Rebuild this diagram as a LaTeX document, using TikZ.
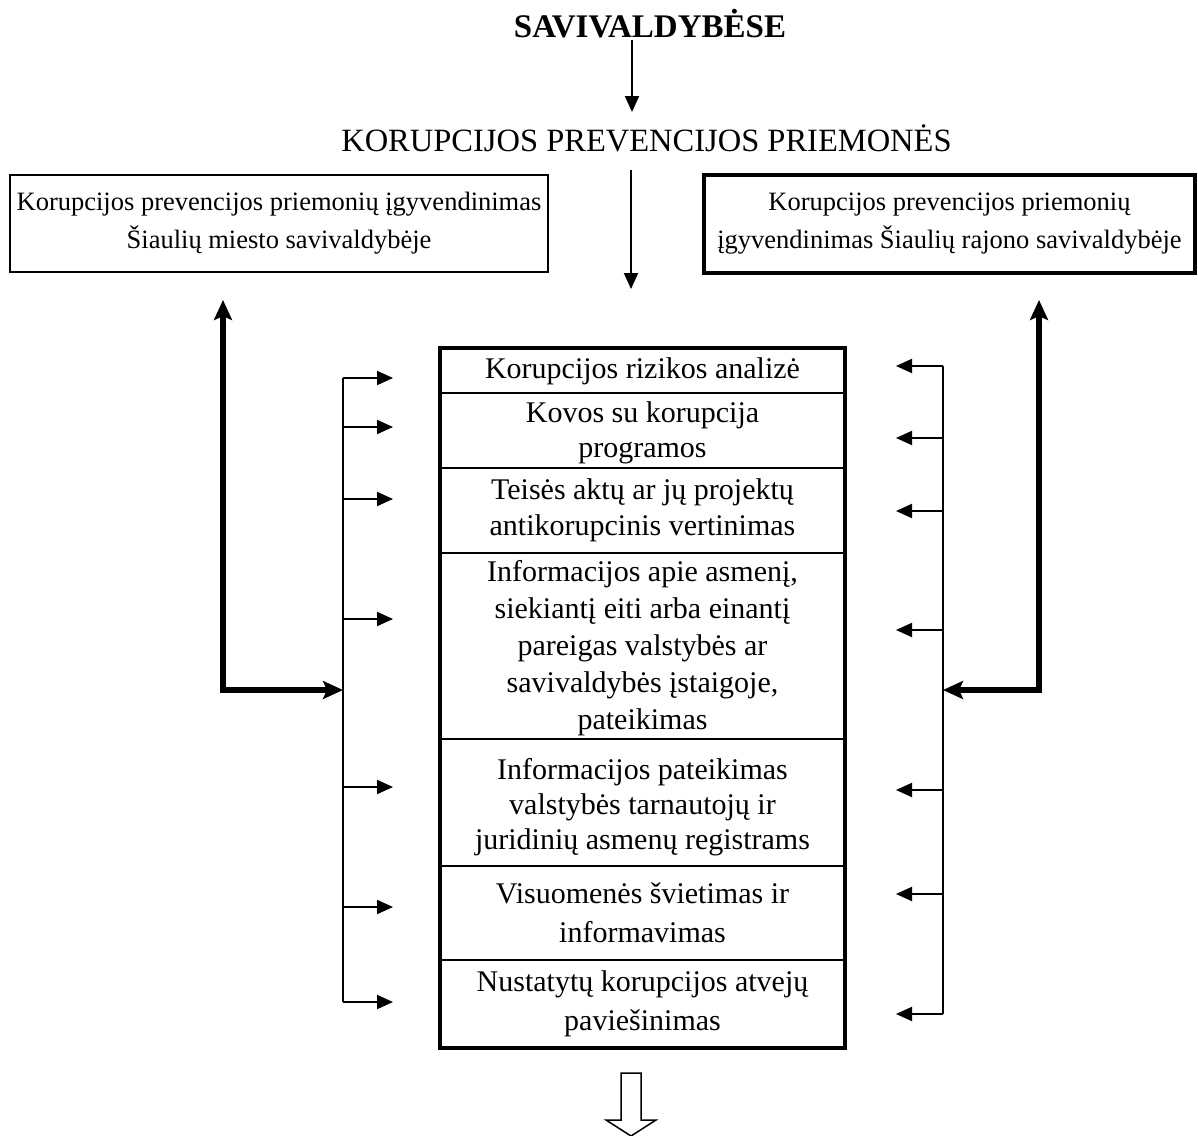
\documentclass[tikz,border=0pt]{standalone}
\usepackage{fontspec}
\setmainfont{Liberation Serif}
\usetikzlibrary{arrows.meta}
\begin{document}
\begin{tikzpicture}[x=1pt,y=-1pt,
  rowbox/.style={draw, line width=2pt, minimum width=403pt, inner sep=0pt},
  rowtext/.style={inner sep=0pt, align=center, font=\fontsize{30}{37}\selectfont},
  sidebox/.style={draw, inner sep=0pt, align=center, font=\fontsize{26.5}{38}\selectfont},
  headtext/.style={inner sep=0pt, anchor=base, font=\fontsize{32.5}{36}\selectfont},
  thinarr/.style={line width=2pt, -{Triangle[length=16pt,width=14pt]}},
  busline/.style={line width=2pt},
  thickarr/.style={line width=5.5pt, line join=miter, {Stealth[length=20pt,width=18pt,inset=4pt]}-{Stealth[length=20pt,width=18pt,inset=4pt]}},
  hollow/.style={draw, line width=1.5pt, fill=white, line join=miter}
]
\useasboundingbox (0,0) rectangle (1198,1135);
\clip (0,0) rectangle (1198,1135);

% headings
\node[headtext, font=\fontsize{33}{36}\selectfont\bfseries] (t1) at (650,37) {SAVIVALDYBĖSE};
\node[headtext] (t2) at (646.5,151) {KORUPCIJOS PREVENCIJOS PRIEMONĖS};

\coordinate (a1s) at (632,40);
\coordinate (a1e) at (632,112);
\draw[thinarr] (a1s) -- (a1e);

\coordinate (a2s) at (631,170);
\coordinate (a2e) at (631,289);
\draw[thinarr] (a2s) -- (a2e);

% side boxes
\node[sidebox, line width=2pt, minimum width=538pt, minimum height=97pt] (lbox) at (279,223.5)
  {Korupcijos prevencijos priemonių įgyvendinimas\\Šiaulių miesto savivaldybėje};
\node[sidebox, line width=3.5pt, minimum width=491pt, minimum height=98pt] (rbox) at (949.5,224)
  {Korupcijos prevencijos priemonių\\įgyvendinimas Šiaulių rajono savivaldybėje};

% central column: row frames
\node[rowbox, minimum height=44pt] (r1) at (642.5,371) {};
\node[rowbox, minimum height=75pt] (r2) at (642.5,430.5) {};
\node[rowbox, minimum height=85pt] (r3) at (642.5,510.5) {};
\node[rowbox, minimum height=186pt] (r4) at (642.5,646) {};
\node[rowbox, minimum height=127pt] (r5) at (642.5,802.5) {};
\node[rowbox, minimum height=94pt] (r6) at (642.5,913) {};
\node[rowbox, minimum height=87pt] (r7) at (642.5,1003.5) {};
\draw[line width=3.5pt] (r1.north west) rectangle (r7.south east);

% central column: row texts
\node[rowtext] (x1) at (r1) {Korupcijos rizikos analizė};
\node[rowtext, font=\fontsize{30}{35}\selectfont, yshift=-2pt] (x2) at (r2) {Kovos su korupcija\\programos};
\node[rowtext, font=\fontsize{30}{36}\selectfont] (x3) at (r3) {Teisės aktų ar jų projektų\\antikorupcinis vertinimas};
\node[rowtext, font=\fontsize{30}{37}\selectfont, yshift=-2.5pt] (x4) at (r4) {Informacijos apie asmenį,\\siekiantį eiti arba einantį\\pareigas valstybės ar\\savivaldybės įstaigoje,\\pateikimas};
\node[rowtext, font=\fontsize{30}{35}\selectfont, yshift=-5pt] (x5) at (r5) {Informacijos pateikimas\\valstybės tarnautojų ir\\juridinių asmenų registrams};
\node[rowtext, font=\fontsize{30}{39}\selectfont] (x6) at (r6) {Visuomenės švietimas ir\\informavimas};
\node[rowtext, font=\fontsize{30}{39}\selectfont] (x7) at (r7) {Nustatytų korupcijos atvejų\\paviešinimas};

% left bus
\foreach \i/\y in {1/378,2/427,3/499,4/619,5/787,6/907,7/1002}{
  \coordinate (lb\i) at (343,\y);
  \coordinate (lt\i) at (393,\y);
}
\draw[busline] (lb1) -- (lb7);
\foreach \i in {1,...,7}{ \draw[thinarr] (lb\i) -- (lt\i); }

% right bus
\foreach \i/\y in {1/366,2/438,3/511,4/630,5/790,6/894,7/1014}{
  \coordinate (rb\i) at (943,\y);
  \coordinate (rt\i) at (896,\y);
}
\draw[busline] (rb1) -- (rb7);
\foreach \i in {1,...,7}{ \draw[thinarr] (rb\i) -- (rt\i); }

% thick feedback arrows
\coordinate (ltop) at (223,300);
\coordinate (ljoin) at (343,690);
\draw[thickarr] (ltop) |- (ljoin);
\coordinate (rtop) at (1039,300);
\coordinate (rjoin) at (943,690);
\draw[thickarr] (rtop) |- (rjoin);

% hollow arrow
\draw[hollow] (621,1073) -- (641,1073) -- (641,1120) -- (656,1120) -- (631,1136) -- (606,1120) -- (621,1120) -- cycle;
\end{tikzpicture}
\end{document}
